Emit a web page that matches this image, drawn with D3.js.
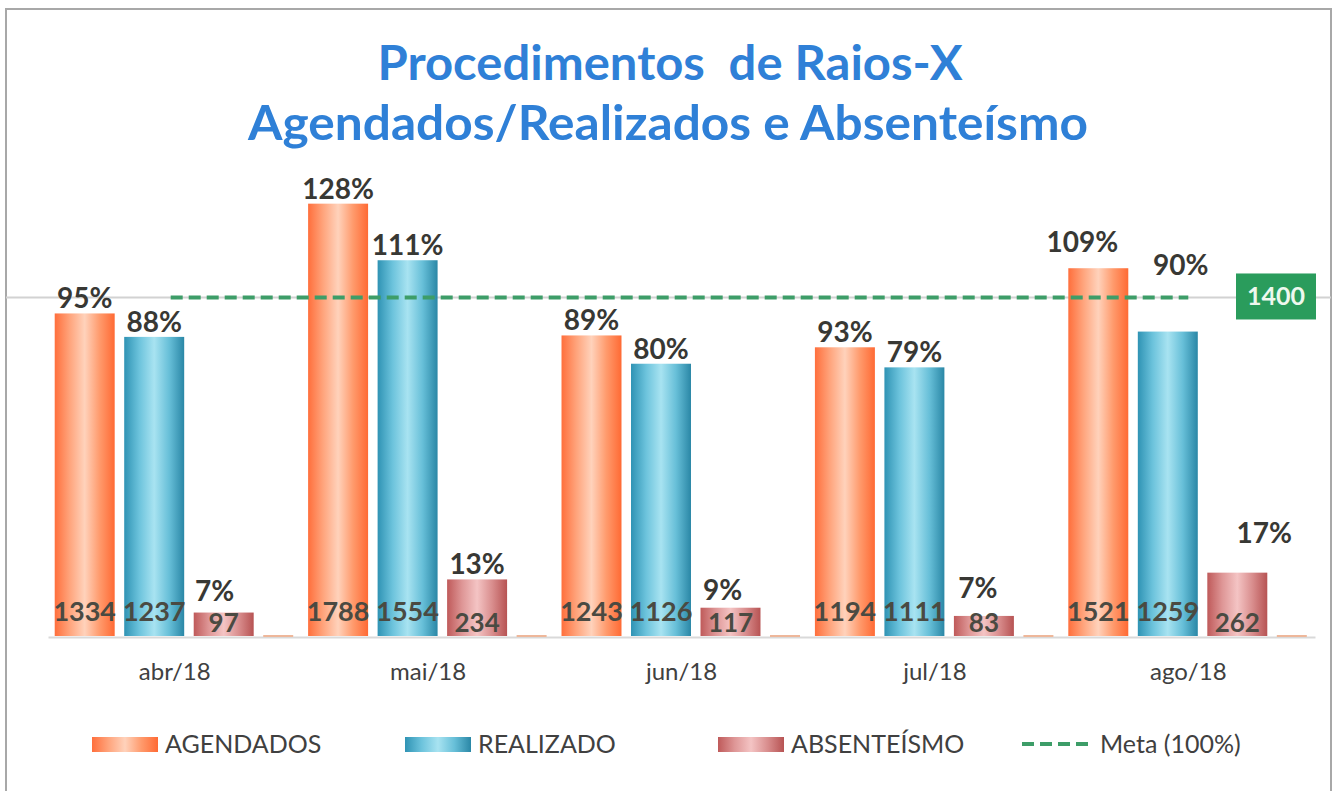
<!DOCTYPE html>
<html>
<head>
<meta charset="utf-8">
<script src="https://cdnjs.cloudflare.com/ajax/libs/d3/7.8.5/d3.min.js"></script>
<style>
    body { margin: 0; background: #fff; }
    text { font-family: Lato, "Open Sans", sans-serif; }
</style>
</head>
<body>
<div id="chart"></div>
<script>

// data
var months = ["abr/18", "mai/18", "jun/18", "jul/18", "ago/18"];
var agendados = [1334, 1788, 1243, 1194, 1521];
var realizado = [1237, 1554, 1126, 1111, 1259];
var absenteismo = [97, 234, 117, 83, 262];
var pctAgendados = [95, 128, 89, 93, 109];
var pctRealizado = [88, 111, 80, 79, 90];
var pctAbsenteismo = [7, 13, 9, 7, 17];
var meta = 1400;

var seriesKeys = ["agendados", "realizado", "absenteismo", "meta"];
var seriesNames = ["AGENDADOS", "REALIZADO", "ABSENTEÍSMO", "Meta (100%)"];

var width = 1335,
    height = 791;

var svg = d3.select("#chart").append("svg")
    .attr("width", width)
    .attr("height", height);

// horizontal gradients giving the cylinder look
var gradients = {
    agendados: ["#ff6f3c", "#ffa47c", "#ffd2bb", "#ff9a6c", "#ff6a34"],
    realizado: ["#2f93b4", "#6cc3dc", "#a8e3f1", "#67bfd8", "#2a87a6"],
    absenteismo: ["#bf5a5a", "#de9696", "#f4c4c4", "#d98e8e", "#b75353"]
};
var defs = svg.append("defs");
Object.keys(gradients).forEach(function(key) {
    var g = defs.append("linearGradient")
        .attr("id", "grad-" + key)
        .attr("x1", "0%").attr("x2", "100%")
        .attr("y1", "0%").attr("y2", "0%");
    gradients[key].forEach(function(c, i) {
        g.append("stop")
            .attr("offset", (i / (gradients[key].length - 1) * 100) + "%")
            .attr("stop-color", c);
    });
});

// frame
svg.append("rect")
    .attr("x", 6).attr("y", 9)
    .attr("width", 1325).attr("height", 792)
    .attr("fill", "none")
    .attr("stroke", "#a8a8a8")
    .attr("stroke-width", 2);

// title
var titleLines = [
    { text: "Procedimentos  de Raios-X", x: 670, y: 80, len: 585 },
    { text: "Agendados/Realizados e Absenteísmo", x: 668, y: 140, len: 840 }
];
svg.selectAll(".title")
    .data(titleLines)
    .enter().append("text")
    .attr("class", "title")
    .attr("x", function(d) { return d.x; })
    .attr("y", function(d) { return d.y; })
    .attr("text-anchor", "middle")
    .attr("textLength", function(d) { return d.len; })
    .attr("lengthAdjust", "spacingAndGlyphs")
    .style("white-space", "pre")
    .style("font-size", "47px")
    .style("font-weight", "bold")
    .attr("fill", "#2f80d7")
    .text(function(d) { return d.text; });

// Scales
var x = d3.scaleBand()
    .domain(months)
    .range([48, 1315]);

var xs = d3.scaleBand()
    .domain(seriesKeys)
    .range([-124.75, 153.25])
    .paddingInner(0.137)
    .paddingOuter(0.0685);

var baseY = 636;
var y = d3.scaleLinear()
    .domain([0, 1800])
    .range([baseY, baseY - 1800 * 0.2418]);

// faint grey line at the goal level
svg.append("line")
    .attr("x1", 6).attr("x2", 1331)
    .attr("y1", y(meta)).attr("y2", y(meta))
    .attr("stroke", "#d2d2d2")
    .attr("stroke-width", 2);

// x axis
var xAxis = d3.axisBottom(x)
    .tickSize(0)
    .tickPadding(26);

var axisG = svg.append("g")
    .attr("class", "x-axis")
    .attr("transform", "translate(0," + (baseY + 1) + ")")
    .call(xAxis);
axisG.select(".domain")
    .attr("stroke", "#d9d9d9")
    .attr("stroke-width", 2);
axisG.selectAll("text")
    .style("font-size", "24px")
    .style("font-family", "Lato, sans-serif")
    .attr("fill", "#404040");

// flatten data
var rows = [];
months.forEach(function(m, i) {
    rows.push({ month: m, key: "agendados", value: agendados[i], pct: pctAgendados[i] });
    rows.push({ month: m, key: "realizado", value: realizado[i], pct: pctRealizado[i] });
    rows.push({ month: m, key: "absenteismo", value: absenteismo[i], pct: pctAbsenteismo[i] });
});

function barX(d) {
    return x(d.month) + x.bandwidth() / 2 + xs(d.key);
}

// bars
svg.selectAll(".bar")
    .data(rows)
    .enter().append("rect")
    .attr("class", "bar")
    .attr("x", barX)
    .attr("y", function(d) { return y(d.value); })
    .attr("width", xs.bandwidth())
    .attr("height", function(d) { return baseY - y(d.value); })
    .attr("fill", function(d) { return "url(#grad-" + d.key + ")"; });

// empty meta slot shows as a thin stroke on the base
svg.selectAll(".meta-stub")
    .data(months)
    .enter().append("line")
    .attr("class", "meta-stub")
    .attr("x1", function(m) { return x(m) + x.bandwidth() / 2 + xs("meta"); })
    .attr("x2", function(m) { return x(m) + x.bandwidth() / 2 + xs("meta") + 30; })
    .attr("y1", baseY).attr("y2", baseY)
    .attr("stroke", "#eeb79a")
    .attr("stroke-width", 2);

// goal dashed line, from first to last month centre
svg.append("line")
    .attr("x1", x(months[0]) + x.bandwidth() / 2 - 4)
    .attr("x2", x(months[months.length - 1]) + x.bandwidth() / 2)
    .attr("y1", y(meta)).attr("y2", y(meta))
    .attr("stroke", "#3d9d68")
    .attr("stroke-width", 4)
    .attr("stroke-dasharray", "12,6");

// goal value tag
var tag = svg.append("g")
    .attr("transform", "translate(1236," + (y(meta) - 24) + ")");
tag.append("rect")
    .attr("width", 80).attr("height", 46)
    .attr("fill", "#2a9c5c");
tag.append("text")
    .attr("x", 40).attr("y", 32)
    .attr("text-anchor", "middle")
    .style("font-size", "25px")
    .style("font-weight", "bold")
    .attr("fill", "#eef8ee")
    .text(meta);

// values inside the bars
svg.selectAll(".val")
    .data(rows)
    .enter().append("text")
    .attr("class", "val")
    .attr("x", function(d) { return barX(d) + xs.bandwidth() / 2; })
    .attr("y", function(d) { return d.key == "absenteismo" ? 632 : 621; })
    .attr("text-anchor", "middle")
    .style("font-size", function(d) { return d.key == "absenteismo" ? "26px" : "27px"; })
    .style("font-weight", "bold")
    .attr("fill", "#4a4a42")
    .text(function(d) { return d.value; });

// percentage labels (some were moved by hand in the original)
var pctNudge = {
    "ago/18|agendados": [-16, -11],
    "ago/18|realizado": [13, -52],
    "ago/18|absenteismo": [27, -25],
    "jul/18|absenteismo": [-6, -13],
    "jun/18|absenteismo": [-8, -3],
    "abr/18|absenteismo": [-9, -7]
};
svg.selectAll(".pct")
    .data(rows)
    .enter().append("text")
    .attr("class", "pct")
    .attr("x", function(d) {
        var n = pctNudge[d.month + "|" + d.key] || [0, 0];
        return barX(d) + xs.bandwidth() / 2 + n[0];
    })
    .attr("y", function(d) {
        var n = pctNudge[d.month + "|" + d.key] || [0, 0];
        return y(d.value) - 5 + n[1];
    })
    .attr("text-anchor", "middle")
    .style("font-size", "28px")
    .style("font-weight", "bold")
    .attr("fill", "#383834")
    .text(function(d) { return d.pct + "%"; });

// legend
var legendX = [92, 405, 718, 1022];
var legend = svg.selectAll(".legend")
    .data(seriesKeys)
    .enter().append("g")
    .attr("class", "legend")
    .attr("transform", function(d, i) { return "translate(" + legendX[i] + ",744)"; });

legend.each(function(key, i) {
    var g = d3.select(this);
    if (key == "meta") {
        g.append("line")
            .attr("x1", 0).attr("x2", 72)
            .attr("stroke", "#3d9d68")
            .attr("stroke-width", 4)
            .attr("stroke-dasharray", "12,6");
        g.append("text")
            .attr("x", 78).attr("y", 0)
            .attr("dy", "0.35em")
            .style("font-size", "25px")
            .attr("fill", "#404040")
            .text(seriesNames[i]);
    } else {
        g.append("rect")
            .attr("x", 0).attr("y", -7)
            .attr("width", 66).attr("height", 15)
            .attr("fill", "url(#grad-" + key + ")");
        g.append("text")
            .attr("x", 73).attr("y", 0)
            .attr("dy", "0.35em")
            .style("font-size", "25px")
            .attr("fill", "#404040")
            .text(seriesNames[i]);
    }
});

</script>
</body>
</html>
